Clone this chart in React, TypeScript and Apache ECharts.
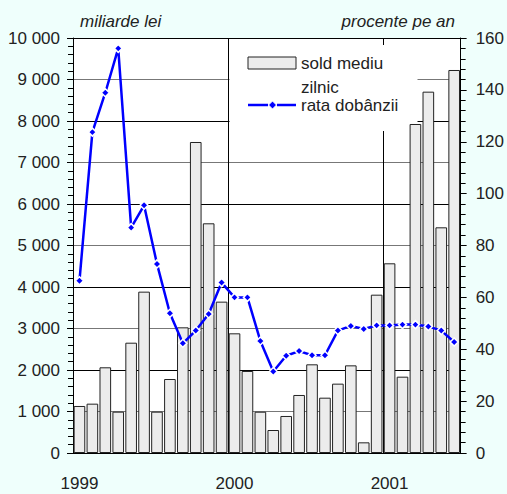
import React, { useEffect, useRef } from "react";
import * as echarts from "echarts";

const months: string[] = [
  "1999-01","1999-02","1999-03","1999-04","1999-05","1999-06","1999-07","1999-08","1999-09","1999-10","1999-11","1999-12",
  "2000-01","2000-02","2000-03","2000-04","2000-05","2000-06","2000-07","2000-08","2000-09","2000-10","2000-11","2000-12",
  "2001-01","2001-02","2001-03","2001-04","2001-05","2001-06",
];

// sold mediu zilnic (miliarde lei)
const soldMediu: number[] = [
  1133, 1189, 2065, 996, 2658, 3888, 996, 1783, 3028, 7494, 5535, 3647,
  2884, 1976, 995, 554, 892, 1398, 2137, 1333, 1671, 2112, 257, 3815,
  4571, 1839, 7928, 8707, 5438, 9229,
];

// rata dobânzii (procente pe an)
const rataDobanzii: number[] = [
  66.4, 123.7, 138.9, 156, 86.9, 95.5, 72.9, 53.9, 42.3, 47.2, 53.6, 65.7,
  60, 60, 43.2, 31.4, 37.5, 39.3, 37.7, 37.7, 47.2, 49.0, 47.8, 49.2,
  49.2, 49.5, 49.5, 48.8, 47.2, 42.8,
];

const leftTitle = "miliarde lei";
const rightTitle = "procente pe an";
const legendBar1 = "sold mediu";
const legendBar2 = "zilnic";
const legendLine = "rata dobânzii";

const FONT = "'Liberation Sans', Arial, Helvetica, sans-serif";
const TXT = "#222";

export default function App() {
  const ref = useRef<HTMLDivElement>(null);
  useEffect(() => {
    if (!ref.current) return;
    const chart = echarts.init(ref.current, undefined, { renderer: "svg" });
    const option: any = {
      animation: false,
      backgroundColor: "#effffc",
      grid: {
        left: 73, right: 45, top: 38, bottom: 41,
        show: true, backgroundColor: "#ffffff", borderWidth: 0,
      },
      xAxis: {
        type: "category",
        data: months,
        boundaryGap: true,
        axisLine: { show: true, lineStyle: { color: "#000", width: 1 } },
        axisTick: { show: false },
        axisLabel: {
          interval: (i: number) => i % 12 === 0,
          formatter: (v: string) => v.slice(0, 4),
          color: TXT, fontSize: 17, fontFamily: FONT, margin: 22,
        },
        splitLine: {
          show: true,
          interval: (i: number) => i % 12 === 0 && i > 0,
          lineStyle: { color: "#000", width: 1 },
        },
      },
      yAxis: [
        {
          type: "value", min: 0, max: 10000, interval: 1000,
          axisLine: { show: true, lineStyle: { color: "#000", width: 1 } },
          axisTick: { show: true, length: 6, lineStyle: { color: "#000" } },
          minorTick: { show: true, splitNumber: 5, length: 5, lineStyle: { color: "#000" } },
          axisLabel: {
            color: TXT, fontSize: 17, fontFamily: FONT, margin: 13,
            formatter: (v: number) => String(v).replace(/\B(?=(\d{3})+(?!\d))/g, " "),
          },
          splitLine: { show: true, lineStyle: { color: ["#000", "#777"], width: 1 } },
        },
        {
          type: "value", min: 0, max: 160, interval: 20, position: "right",
          axisLine: { show: true, lineStyle: { color: "#000", width: 1 } },
          axisTick: { show: true, length: 6, lineStyle: { color: "#000" } },
          minorTick: { show: true, splitNumber: 5, length: 5, lineStyle: { color: "#000" } },
          axisLabel: { color: TXT, fontSize: 17, fontFamily: FONT, margin: 15 },
          splitLine: { show: false },
        },
      ],
      series: [
        {
          type: "bar",
          name: "sold mediu zilnic",
          data: soldMediu,
          yAxisIndex: 0,
          barCategoryGap: "10%",
          itemStyle: { color: "#ececec", borderColor: "#222", borderWidth: 1 },
          z: 2,
        },
        {
          type: "line",
          name: "rata dobânzii",
          data: rataDobanzii,
          yAxisIndex: 1,
          symbol: "diamond",
          symbolSize: 8,
          showAllSymbol: true,
          lineStyle: { color: "#0000ff", width: 2.5 },
          itemStyle: { color: "#0000ff", borderColor: "#ffffff", borderWidth: 1.5 },
          z: 3,
        },
      ],
      graphic: [
        { type: "rect", z: 1, shape: { x: 229.5, y: 45, width: 188, height: 86 }, style: { fill: "#ffffff" } },
        { type: "rect", z: 10, shape: { x: 248, y: 57, width: 48, height: 12 }, style: { fill: "#ececec", stroke: "#222", lineWidth: 1 } },
        { type: "text", z: 10, x: 301, y: 63, style: { text: legendBar1, fill: TXT, font: `17px ${FONT}`, verticalAlign: "middle" } },
        { type: "text", z: 10, x: 301, y: 87, style: { text: legendBar2, fill: TXT, font: `17px ${FONT}`, verticalAlign: "middle" } },
        { type: "line", z: 10, shape: { x1: 248, y1: 105, x2: 268, y2: 105 }, style: { stroke: "#0000ff", lineWidth: 2.5 } },
        { type: "line", z: 10, shape: { x1: 277, y1: 105, x2: 296, y2: 105 }, style: { stroke: "#0000ff", lineWidth: 2.5 } },
        { type: "polygon", z: 10, shape: { points: [[272.5, 101], [276.5, 105], [272.5, 109], [268.5, 105]] }, style: { fill: "#0000ff", stroke: "#fff", lineWidth: 1 } },
        { type: "text", z: 10, x: 301, y: 105, style: { text: legendLine, fill: TXT, font: `17px ${FONT}`, verticalAlign: "middle" } },
        { type: "text", z: 10, x: 80, y: 13, style: { text: leftTitle, fill: TXT, font: `italic 17px ${FONT}` } },
        { type: "text", z: 10, x: 455, y: 13, style: { text: rightTitle, fill: TXT, font: `italic 17px ${FONT}`, align: "right" } },
      ],
    };
    chart.setOption(option);
    return () => chart.dispose();
  }, []);
  return (
    <div
      ref={ref}
      style={{ position: "fixed", left: 0, top: 0, width: 507, height: 494 }}
    />
  );
}
